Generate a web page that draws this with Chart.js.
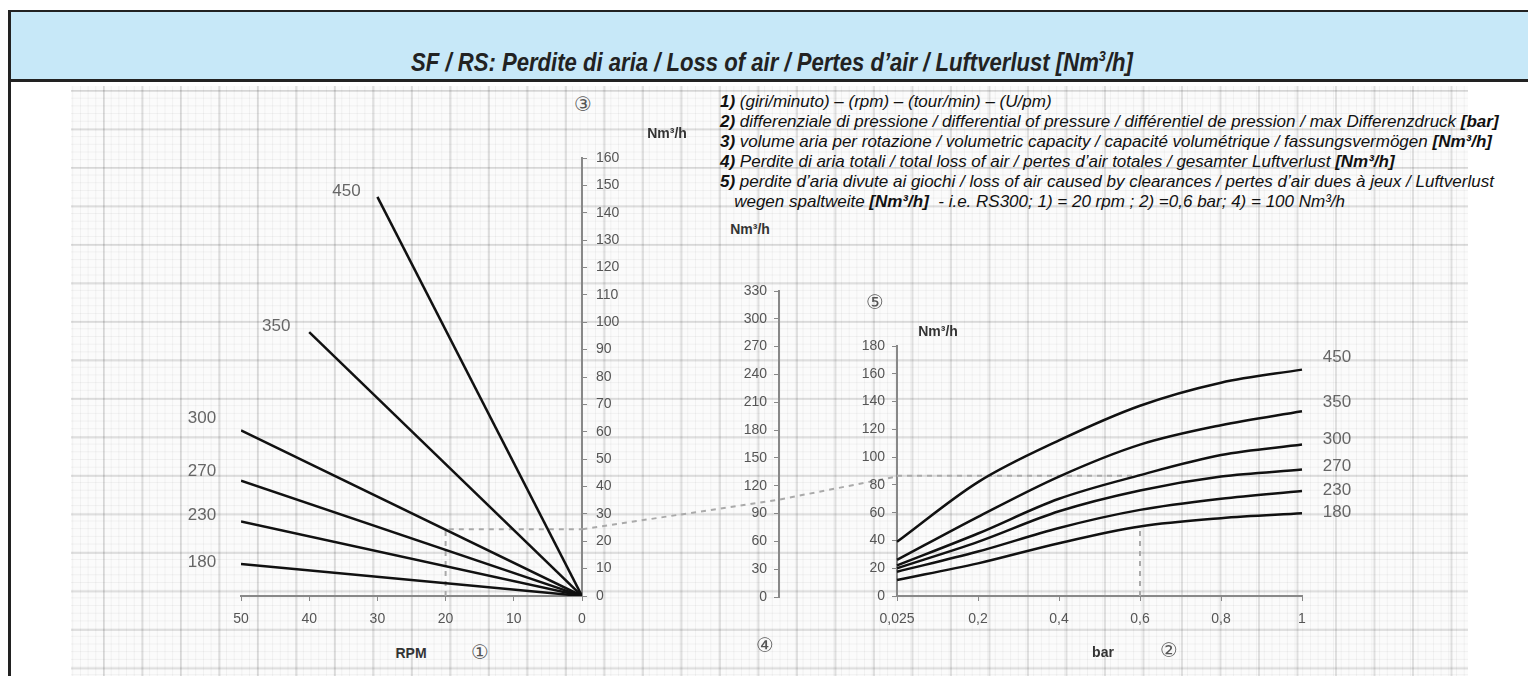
<!DOCTYPE html>
<html>
<head>
<meta charset="utf-8">
<script src="https://cdn.jsdelivr.net/npm/chart.js@4.4.0/dist/chart.umd.min.js"></script>
<style>
  body { margin: 0; width: 1528px; height: 676px; overflow: hidden; background: #fff; position: relative;
         font-family: 'Liberation Sans', Arial, sans-serif; }
  #frame { position: absolute; left: 8px; top: 10px; width: 0; height: 680px; border-left: 3px solid #222; }
  #title { position: absolute; left: 8px; top: 10px; width: 1530px; height: 67px; background: #c7e8f8;
           border-top: 2px solid #222; border-bottom: 3px solid #222; overflow: hidden; }
  #title span { position: absolute; left: 764px; top: 50px; transform: translate(-50%, -50%) scaleX(0.85);
           white-space: nowrap; font: italic bold 26px 'Liberation Sans', Arial, sans-serif; color: #222; }
  #title sup { font-size: 15px; line-height: 0; }
  #paper { position: absolute; left: 71px; top: 86px; width: 1397px; height: 590px; background-color: #fbfbfb;
           background-image:
             linear-gradient(to right, rgba(0,0,0,0.11) 2px, transparent 2px),
             linear-gradient(to bottom, rgba(0,0,0,0.11) 2px, transparent 2px),
             linear-gradient(to right, rgba(0,0,0,0.045) 1px, transparent 1px),
             linear-gradient(to bottom, rgba(0,0,0,0.045) 1px, transparent 1px);
           background-size: 38.5px 38.5px, 38.5px 38.5px, 7.7px 7.7px, 7.7px 7.7px;
           background-position: 32px 4px, 32px 4px, 32px 4px, 32px 4px; }
  #notes { position: absolute; left: 720px; top: 92px; font: italic 17px 'Liberation Sans', Arial, sans-serif;
           line-height: 20px; color: #111; white-space: nowrap; }
  #notes b { font-weight: bold; }
  canvas { position: absolute; }
  .lbl { position: absolute; transform: translate(-50%, -50%); white-space: nowrap; }
  .unit { font: bold 14px 'Liberation Sans', Arial, sans-serif; color: #333; }
  .circ { font: 20px 'DejaVu Sans', sans-serif; color: #555; }
</style>
</head>
<body>
<div id="paper"></div>
<div id="title"><span>SF / RS: Perdite di aria / Loss of air / Pertes d’air / Luftverlust [Nm<sup>3</sup>/h]</span></div>
<div id="frame"></div>
<div id="notes">
  <div><b>1)</b> (giri/minuto) – (rpm) – (tour/min) – (U/pm)</div>
  <div><b>2)</b> differenziale di pressione / differential of pressure / différentiel de pression / max Differenzdruck <b>[bar]</b></div>
  <div><b>3)</b> volume aria per rotazione / volumetric capacity / capacité volumétrique / fassungsvermögen <b>[Nm³/h]</b></div>
  <div><b>4)</b> Perdite di aria totali / total loss of air / pertes d’air totales / gesamter Luftverlust <b>[Nm³/h]</b></div>
  <div><b>5)</b> perdite d’aria divute ai giochi / loss of air caused by clearances / pertes d’air dues à jeux / Luftverlust</div>
  <div>&nbsp;&nbsp;&nbsp;wegen spaltweite <b>[Nm³/h]</b>&nbsp; - i.e. RS300; 1) = 20 rpm ; 2) =0,6 bar; 4) = 100 Nm³/h</div>
</div>

<canvas id="rpmChart" width="500" height="510" style="left:150px;top:130px"></canvas>
<canvas id="totalChart" width="315" height="370" style="left:582px;top:270px"></canvas>
<canvas id="barChart" width="560" height="320" style="left:840px;top:320px"></canvas>

<div class="lbl circ" style="left:583px;top:104px">③</div>
<div class="lbl unit" style="left:667px;top:133px">Nm³/h</div>
<div class="lbl unit" style="left:411px;top:653px">RPM</div>
<div class="lbl circ" style="left:480px;top:652px">①</div>
<div class="lbl unit" style="left:750px;top:229px">Nm³/h</div>
<div class="lbl circ" style="left:765px;top:645px">④</div>
<div class="lbl circ" style="left:875px;top:302px">⑤</div>
<div class="lbl unit" style="left:938px;top:331px">Nm³/h</div>
<div class="lbl unit" style="left:1103px;top:652px">bar</div>
<div class="lbl circ" style="left:1169px;top:650px">②</div>

<script>
// taglie / sizes
const sizes = ['180', '230', '270', '300', '350', '450'];

// grafico sinistro: volume aria per rotazione (retta da 0 fino al punto finale)
const rpmEnd = [50, 50, 50, 50, 40, 30];
const volumeAtEnd = [11.7, 27.2, 42.1, 60.5, 96.4, 145.8];

// grafico destro: perdite per giochi in funzione della pressione
const barLabels = ['0,025', '0,2', '0,4', '0,6', '0,8', '1'];
const clearance180 = [11.5, 23.5, 38, 50, 56, 59.5];
const clearance230 = [17.5, 32, 49, 62, 70, 75.6];
const clearance270 = [20, 39, 61, 76, 86, 91];
const clearance300 = [22, 45, 70, 87, 101.5, 109];
const clearance350 = [26, 57, 86, 109, 123, 133];
const clearance450 = [39, 82, 112, 137, 153.6, 163];

// esempio RS300: 20 rpm, 0,6 bar
const exampleRpm = 20;
const exampleVolume = 24.4;
const exampleBar = '0,6';
const exampleClearance = 86.6;
const exampleBarCurve = 50;
// retta del nomogramma: posizione tra asse 3 (0) e asse 5 (1), asse 4 a 0.625
const nomogramPos = [0, 0.625, 1];
const nomogramValues = [73, 105, 130];
const middleAxisPos = 0.625;

Chart.defaults.font.family = "'Liberation Sans', Arial, sans-serif";
Chart.defaults.font.size = 14;
Chart.defaults.color = '#555';

const axisGrey = '#888';
const dotted = { borderColor: '#aaa', borderWidth: 2, borderDash: [5, 5], pointRadius: 0, fill: false, order: 10 };

// etichette accanto all'estremo di ogni linea
const endLabels = {
  id: 'endLabels',
  afterDatasetsDraw(chart) {
    const ctx = chart.ctx;
    chart.data.datasets.forEach((ds, i) => {
      if (!ds.endLabel) return;
      const pts = chart.getDatasetMeta(i).data;
      const pt = pts[pts.length - 1];
      ctx.save();
      ctx.font = "17px 'Liberation Sans', Arial, sans-serif";
      ctx.fillStyle = '#666';
      ctx.textAlign = 'center';
      ctx.textBaseline = 'middle';
      ctx.fillText(ds.endLabel, pt.x + ds.labelDx, pt.y + ds.labelDy);
      ctx.restore();
    });
  }
};

const baseOpts = {
  responsive: false,
  animation: false,
  plugins: { legend: { display: false }, tooltip: { enabled: false } },
  elements: { point: { radius: 0 } }
};

// Grafico sinistro (RPM)
const leftDy = [-2, -6, -9, -12, -6, -6];
const leftDx = [-39, -39, -39, -39, -33, -31];
new Chart(document.getElementById('rpmChart'), {
  type: 'line',
  data: {
    datasets: sizes.map((s, i) => ({
      data: [{ x: 0, y: 0 }, { x: rpmEnd[i], y: volumeAtEnd[i] }],
      borderColor: '#111', borderWidth: 2.5, fill: false,
      endLabel: s, labelDx: leftDx[i], labelDy: leftDy[i]
    })).concat([Object.assign({
      data: [{ x: exampleRpm, y: 0 }, { x: exampleRpm, y: exampleVolume }, { x: 0, y: exampleVolume }]
    }, dotted)])
  },
  options: Object.assign({}, baseOpts, {
    layout: { padding: { left: 91, top: 28, right: 0, bottom: 0 } },
    scales: {
      x: {
        type: 'linear', reverse: true, min: 0, max: 50,
        ticks: { stepSize: 10, padding: 10 },
        grid: { drawOnChartArea: false, tickLength: 5, color: axisGrey },
        border: { color: axisGrey, width: 2 },
        afterFit(s) { s.height = 44; }
      },
      y: {
        type: 'linear', position: 'right', min: 0, max: 160,
        ticks: { stepSize: 10, padding: 9 },
        grid: { drawOnChartArea: false, tickLength: 5, color: axisGrey },
        border: { color: axisGrey, width: 2 },
        afterFit(s) { s.width = 68; }
      }
    }
  }),
  plugins: [endLabels]
});

// Asse centrale: perdite totali (la retta del nomogramma esce a sinistra dell'area)
new Chart(document.getElementById('totalChart'), {
  type: 'line',
  data: {
    datasets: [Object.assign({
      data: nomogramPos.map((p, i) => ({ x: p, y: nomogramValues[i] })),
      clip: false
    }, dotted)]
  },
  options: Object.assign({}, baseOpts, {
    layout: { padding: { left: 0, right: 0, top: 21, bottom: 43 } },
    scales: {
      x: { type: 'linear', display: false, min: middleAxisPos, max: 1 },
      y: {
        type: 'linear', position: 'left', min: 0, max: 330,
        ticks: { stepSize: 30, padding: 7 },
        grid: { drawOnChartArea: false, tickLength: 5, color: axisGrey },
        border: { color: axisGrey, width: 2 },
        afterFit(s) { s.width = 197; }
      }
    }
  })
});

// Grafico destro (bar)
const rightSeries = [clearance180, clearance230, clearance270, clearance300, clearance350, clearance450];
const rightDy = [-1, -1, -3, -5, -9, -12];
new Chart(document.getElementById('barChart'), {
  type: 'line',
  data: {
    labels: barLabels,
    datasets: sizes.map((s, i) => ({
      data: rightSeries[i],
      borderColor: '#111', borderWidth: 2.5, fill: false,
      tension: 0.4, cubicInterpolationMode: 'monotone',
      endLabel: s, labelDx: 35, labelDy: rightDy[i]
    })).concat([
      Object.assign({ data: barLabels.map((l, i) => (i <= barLabels.indexOf(exampleBar) ? exampleClearance : null)) }, dotted),
      Object.assign({ data: [{ x: exampleBar, y: 0 }, { x: exampleBar, y: exampleBarCurve }] }, dotted)
    ])
  },
  options: Object.assign({}, baseOpts, {
    layout: { padding: { left: 0, right: 98, top: 26, bottom: 0 } },
    scales: {
      x: {
        type: 'category', offset: false,
        ticks: { padding: 10, autoSkip: false, maxRotation: 0 },
        grid: { drawOnChartArea: false, tickLength: 5, color: axisGrey, offset: false },
        border: { color: axisGrey, width: 2 },
        afterFit(s) { s.height = 44; }
      },
      y: {
        type: 'linear', position: 'left', min: 0, max: 180,
        ticks: { stepSize: 20, padding: 7 },
        grid: { drawOnChartArea: false, tickLength: 5, color: axisGrey },
        border: { color: axisGrey, width: 2 },
        afterFit(s) { s.width = 57; }
      }
    }
  }),
  plugins: [endLabels]
});
</script>
</body>
</html>
